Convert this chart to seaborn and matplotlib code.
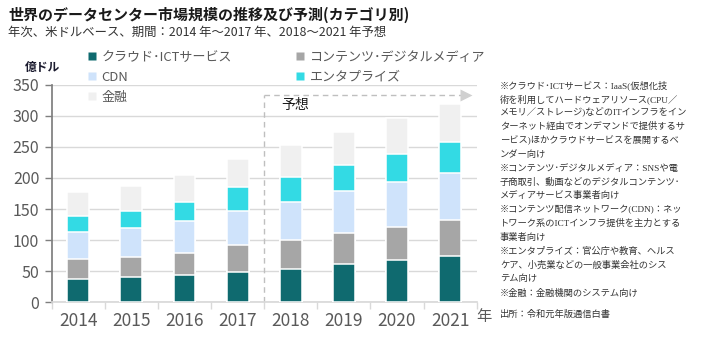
import numpy as np
import pandas as pd
import matplotlib
matplotlib.use("Agg")
import matplotlib.pyplot as plt
from matplotlib.lines import Line2D
import seaborn as sns

# ---- data ----
years = ["2014", "2015", "2016", "2017", "2018", "2019", "2020", "2021"]
categories = ["クラウド･ICTサービス", "コンテンツ･デジタルメディア", "CDN", "エンタプライズ", "金融"]
cloud = [38, 40, 44.5, 49, 54, 61, 67.5, 74]
contents = [32, 33.5, 35.5, 42.5, 46.5, 50, 53, 58]
cdn = [42.5, 45.5, 50, 56, 61, 67.5, 72.5, 75.5]
enterprise = [27, 28.5, 32, 38.5, 40, 43, 46, 51]
finance = [38, 39.5, 43, 44.5, 51.5, 52.5, 58, 60.5]
series = [cloud, contents, cdn, enterprise, finance]
colors = ["#0f6a6f", "#a6a6a6", "#cfe3fb", "#33dae4", "#f0f0f0"]
yticks = [0, 50, 100, 150, 200, 250, 300, 350]

notes = [
    "※クラウド･ICTサービス：IaaS(仮想化技",
    "術を利用してハードウェアリソース(CPU／",
    "メモリ／ストレージ)などのITインフラをイン",
    "ターネット経由でオンデマンドで提供するサ",
    "ービス)ほかクラウドサービスを展開するベ",
    "ンダー向け",
    "※コンテンツ･デジタルメディア：SNSや電",
    "子商取引、動画などのデジタルコンテンツ･",
    "メディアサービス事業者向け",
    "※コンテンツ配信ネットワーク(CDN)：ネッ",
    "トワーク系のICTインフラ提供を主力とする",
    "事業者向け",
    "※エンタプライズ：官公庁や教育、ヘルス",
    "ケア、小売業などの一般事業会社のシス",
    "テム向け",
    "※金融：金融機関のシステム向け",
]
source = "出所：令和元年版通信白書"

# ---- style ----
sns.set_theme(style="white")
plt.rcParams["font.family"] = ["Noto Sans CJK JP", "DejaVu Sans"]

W, H = 705, 340
fig = plt.figure(figsize=(W / 100, H / 100), dpi=100)
ax = fig.add_axes([51.7 / W, 1 - 302.3 / H, 425 / W, 217.6 / H])

df = pd.DataFrame({"year": years})
cum = np.zeros(len(years))
cums = []
for s in series:
    cum = cum + np.array(s)
    cums.append(cum.copy())

for k in reversed(range(len(series))):
    d = df.copy()
    d["v"] = cums[k]
    sns.barplot(data=d, x="year", y="v", color=colors[k], width=0.41,
                edgecolor="white", linewidth=1.1, saturation=1, ax=ax, zorder=3)

ax.set_xlim(-0.5, len(years) - 0.5)
ax.set_ylim(0, 350)
ax.set_yticks(yticks)
ax.set_xlabel("")
ax.set_ylabel("")
ax.yaxis.grid(True, color="#d9d9d9", lw=1, zorder=0)
ax.set_axisbelow(True)
for side in ["top", "right"]:
    ax.spines[side].set_visible(False)
ax.spines["left"].set_color("#7f7f7f")
ax.spines["bottom"].set_color("#d9d9d9")
ax.tick_params(axis="y", length=5, width=1, color="#7f7f7f", pad=4,
               labelsize=11.5, labelcolor="#595959", left=True)
ax.tick_params(axis="x", which="major", length=0, pad=7, labelsize=12.5, labelcolor="#595959")
ax.set_xticks(np.arange(-0.5, len(years), 1.0), minor=True)
ax.tick_params(axis="x", which="minor", length=5, width=1, color="#d9d9d9", bottom=True)

# forecast frame
gray = "#bfbfbf"
ax.plot([3.5, 3.5], [0, 334], ls=(0, (4, 3)), color=gray, lw=1, clip_on=False, zorder=1)
ax.plot([3.5, 7.22], [334, 334], ls=(0, (4, 3)), color=gray, lw=1, clip_on=False, zorder=1)
ax.plot([7.3], [334], marker=">", ms=8, color="#d0d0d0", mec="none", clip_on=False)
ax.text(3.83, 318, "予想", fontsize=10, color="#1a1a1a", va="center", ha="left")

# legend
handles = [Line2D([], [], ls="none", marker="s", ms=5.5, color=c, mec="none") for c in colors]
order = [0, 2, 4, 1, 3]
leg = fig.legend([handles[i] for i in order], [categories[i] for i in order],
                 loc="upper left", bbox_to_anchor=(88 / W, 1 - 51 / H), ncol=2,
                 frameon=False, fontsize=9.4, handlelength=0.6, handletextpad=0.45,
                 labelspacing=0.52, columnspacing=4.9, borderpad=0, borderaxespad=0)
for t in leg.get_texts():
    t.set_color("#595959")

# titles
fig.text(8 / W, 1 - 15 / H, "世界のデータセンター市場規模の推移及び予測(カテゴリ別)",
         fontsize=10.8, fontweight="bold", color="#1a1a1a", va="center", ha="left")
fig.text(8 / W, 1 - 32 / H, "年次、米ドルベース、期間：2014 年～2017 年、2018～2021 年予想",
         fontsize=8.9, color="#333333", va="center", ha="left")
fig.text(25 / W, 1 - 68 / H, "億ドル", fontsize=8.5, fontweight="bold", color="#1a1a2e",
         va="center", ha="left")
fig.text(476 / W, 1 - 316 / H, "年", fontsize=11, color="#595959", va="center", ha="left")

# notes
nf = ["Liberation Serif", "Noto Sans CJK JP", "DejaVu Sans"]
for i, line in enumerate(notes):
    fig.text(500 / W, 1 - (85 + 13.87 * i) / H, line, fontsize=6.7, color="#333333",
             va="center", ha="left", family=nf)
fig.text(500 / W, 1 - 314 / H, source, fontsize=6.7, color="#333333",
         va="center", ha="left", family=nf)

fig.savefig("out.png", dpi=100)
